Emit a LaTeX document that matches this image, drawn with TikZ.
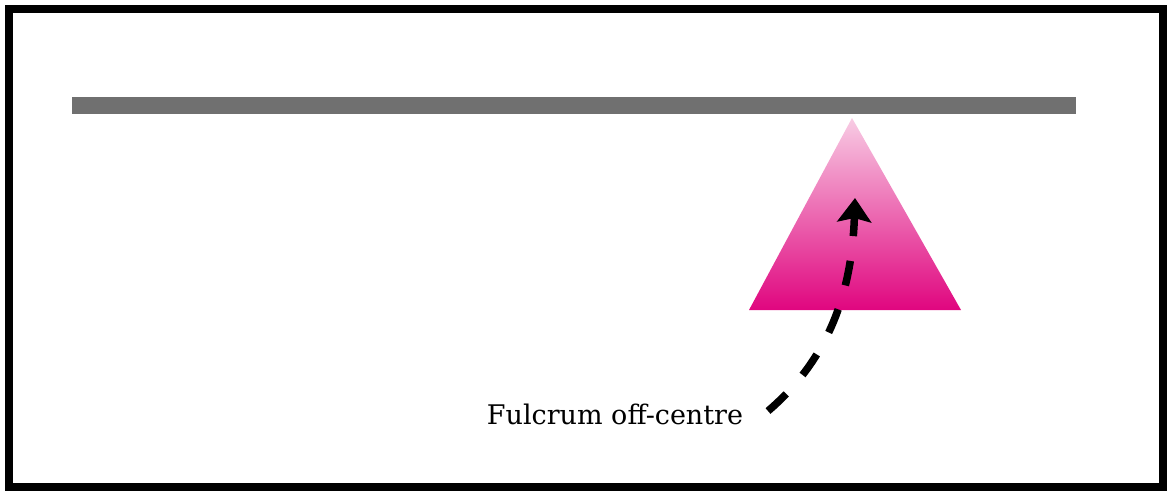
\documentclass[tikz,border=0pt]{standalone}
\usepackage{fontspec}
\setmainfont{DejaVu Serif}
\usetikzlibrary{arrows.meta}
\definecolor{beamgray}{HTML}{707070}
\definecolor{lightpink}{HTML}{F8CCE4}
\definecolor{deepmagenta}{HTML}{E0067F}

\begin{document}
\begin{tikzpicture}[x=1pt,y=-1pt,
    label/.style={font=\fontsize{27}{30}\selectfont,inner sep=0pt},
    pointer/.style={line width=7.5pt,dash pattern=on 25pt off 25pt,
        -{Stealth[length=24pt,width=34pt,inset=4pt]}}]
    \useasboundingbox (0,0) rectangle (1170,491);
    \draw[line width=8pt] (9,9) rectangle (1163,487);

    \fill[beamgray] (72,97) rectangle (1076,114);
    \shade[top color=lightpink,bottom color=deepmagenta]
        (852,118) -- (961,310) -- (749,310) -- cycle;

    \node[label,anchor=base] (txt) at (615,424) {Fulcrum off-centre};
    \coordinate (tail) at (768,411);
    \coordinate (tip)  at (855,198);

    \draw[pointer] (tail) .. controls (830,358) and (852,290) .. (tip);
\end{tikzpicture}
\end{document}
